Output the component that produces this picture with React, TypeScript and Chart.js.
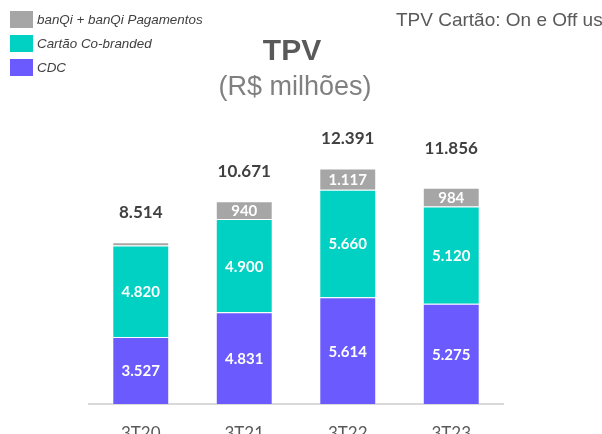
import React, { useEffect, useRef } from "react";
import { Chart, registerables } from "chart.js";

Chart.register(...registerables);

const categories = ["3T20", "3T21", "3T22", "3T23"];
const cdc = [3527, 4831, 5614, 5275];
const cartao = [4820, 4900, 5660, 5120];
const banqi = [167, 940, 1117, 984];
const totals = ["8.514", "10.671", "12.391", "11.856"];
const totalValues = [8514, 10671, 12391, 11856];
const segmentLabels = [
  ["3.527", "4.831", "5.614", "5.275"],
  ["4.820", "4.900", "5.660", "5.120"],
  ["", "940", "1.117", "984"],
];
const seriesNames = ["CDC", "Cartão Co-branded", "banQi + banQi Pagamentos"];
const colors = ["#6b5bff", "#00d1c2", "#a6a6a6"];

const W = 602;
const H = 450;

const overlayPlugin = {
  id: "overlay",
  afterDatasetsDraw(chart: any) {
    const ctx = chart.ctx as CanvasRenderingContext2D;
    const yScale = chart.scales.y;
    ctx.save();
    // segment labels
    ctx.textAlign = "center";
    ctx.textBaseline = "middle";
    ctx.fillStyle = "#ffffff";
    ctx.font = "bold 15px Lato";
    chart.data.datasets.forEach((ds: any, di: number) => {
      const meta = chart.getDatasetMeta(di);
      meta.data.forEach((bar: any, i: number) => {
        const txt = segmentLabels[di][i];
        if (!txt) return;
        const cy = (bar.y + bar.base) / 2;
        ctx.fillText(txt, bar.x, cy + 1);
      });
    });
    // totals
    ctx.fillStyle = "#404040";
    ctx.font = "bold 17px Lato";
    const meta0 = chart.getDatasetMeta(0);
    meta0.data.forEach((bar: any, i: number) => {
      const y = yScale.getPixelForValue(totalValues[i]) - 30;
      ctx.fillText(totals[i], bar.x, y);
    });
    ctx.restore();
  },
  afterDraw(chart: any) {
    const ctx = chart.ctx as CanvasRenderingContext2D;
    ctx.save();
    // title
    ctx.textAlign = "center";
    ctx.textBaseline = "middle";
    ctx.fillStyle = "#595959";
    ctx.font = "bold 30px 'Liberation Sans', Arial, sans-serif";
    ctx.fillText("TPV", 292, 52);
    ctx.fillStyle = "#808080";
    ctx.font = "27px 'Liberation Sans', Arial, sans-serif";
    ctx.fillText("(R$ milhões)", 295, 88);
    // corner text
    ctx.textAlign = "left";
    ctx.textBaseline = "alphabetic";
    ctx.fillStyle = "#595959";
    ctx.font = "19px 'Liberation Sans', Arial, sans-serif";
    ctx.fillText("TPV Cartão: On e Off us", 396, 26);
    // legend
    const items = [
      { name: seriesNames[2], color: colors[2], y: 11 },
      { name: seriesNames[1], color: colors[1], y: 35 },
      { name: seriesNames[0], color: colors[0], y: 59 },
    ];
    ctx.font = "italic 13.4px 'Liberation Sans', Arial, sans-serif";
    ctx.textBaseline = "middle";
    items.forEach((it) => {
      ctx.fillStyle = it.color;
      ctx.fillRect(10, it.y, 23, 17);
      ctx.fillStyle = "#404040";
      ctx.fillText(it.name, 37, it.y + 9);
    });
    ctx.restore();
  },
};

export default function App() {
  const ref = useRef<HTMLCanvasElement | null>(null);
  useEffect(() => {
    if (!ref.current) return;
    const chart = new Chart(ref.current, {
      type: "bar",
      data: {
        labels: categories,
        datasets: [cdc, cartao, banqi].map((d, i) => ({
          label: seriesNames[i],
          data: d,
          backgroundColor: colors[i],
          borderColor: "rgba(255,255,255,0.35)",
          borderWidth: 1,
          borderSkipped: "start",
          barPercentage: 0.55,
          categoryPercentage: 1,
        })),
      },
      options: {
        animation: false,
        responsive: false,
        layout: { padding: { top: 138, left: 89, right: 99, bottom: 0 } },
        plugins: {
          legend: { display: false },
          title: { display: false },
          tooltip: { enabled: false },
        },
        scales: {
          x: {
            stacked: true,
            grid: { display: false, drawTicks: false },
            border: { display: true, color: "#d9d9d9", width: 2 },
            ticks: {
              color: "#595959",
              font: { family: "Lato", size: 17 },
              padding: 19,
            },
            afterFit: (scale: any) => {
              scale.height = H - 404;
            },
          },
          y: {
            stacked: true,
            display: false,
            min: 0,
            max: 14000,
          },
        },
      },
      plugins: [overlayPlugin],
    });
    return () => chart.destroy();
  }, []);
  return (
    <div style={{ position: "fixed", left: 0, top: 0, width: W, height: H }}>
      <canvas ref={ref} width={W} height={H} style={{ width: W, height: H, display: "block" }} />
    </div>
  );
}
